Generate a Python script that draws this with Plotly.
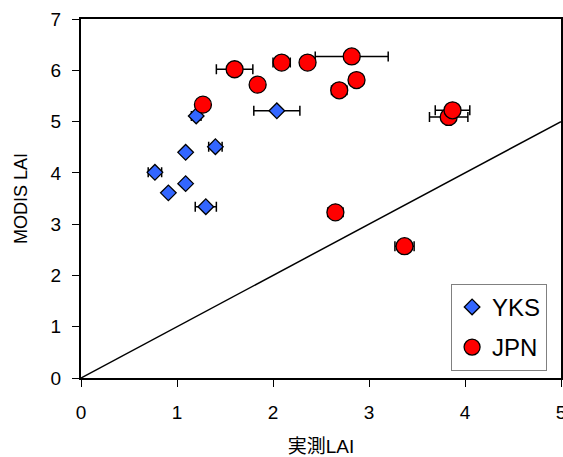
import plotly.graph_objects as go

# YKS site (diamonds)
yks_x = [0.77, 0.91, 1.09, 1.09, 1.20, 1.30, 1.40, 2.04]
yks_y = [4.01, 3.61, 4.40, 3.79, 5.11, 3.34, 4.51, 5.21]
yks_xerr = [0.07, 0.0, 0.0, 0.0, 0.05, 0.11, 0.07, 0.24]

# JPN site (circles)
jpn_x = [1.27, 1.60, 1.84, 2.09, 2.36, 2.82, 2.87, 2.69, 2.65, 3.83, 3.87, 3.37]
jpn_y = [5.33, 6.02, 5.72, 6.15, 6.15, 6.27, 5.81, 5.61, 3.23, 5.09, 5.22, 2.57]
jpn_xerr = [0.0, 0.19, 0.0, 0.09, 0.0, 0.38, 0.0, 0.08, 0.08, 0.20, 0.18, 0.10]

# 1:1 line
line_x = [0, 5]
line_y = [0, 5]

x_ticks = [0, 1, 2, 3, 4, 5]
y_ticks = [0, 1, 2, 3, 4, 5, 6, 7]

FONT = "Liberation Sans, Arial, Noto Sans CJK JP, sans-serif"

fig = go.Figure()
fig.add_trace(go.Scatter(x=line_x, y=line_y, mode="lines",
                         line=dict(color="black", width=1.5),
                         showlegend=False, hoverinfo="skip"))
fig.add_trace(go.Scatter(
    x=yks_x, y=yks_y, mode="markers", name="YKS", legendgroup="a",
    marker=dict(symbol="diamond", size=12, color="#3366FF",
                line=dict(color="black", width=1.3)),
    error_x=dict(type="data", array=yks_xerr, color="black",
                 thickness=1.5, width=5),
))
fig.add_trace(go.Scatter(
    x=jpn_x, y=jpn_y, mode="markers", name="JPN", legendgroup="b",
    marker=dict(symbol="circle", size=17, color="#FF0000",
                line=dict(color="black", width=1.3)),
    error_x=dict(type="data", array=jpn_xerr, color="black",
                 thickness=1.5, width=5),
))

fig.update_layout(
    width=563, height=457,
    margin=dict(l=81, r=2, t=19, b=79, autoexpand=False),
    paper_bgcolor="white", plot_bgcolor="white",
    font=dict(family=FONT, size=19, color="black"),
    showlegend=True,
    legend=dict(x=0.971, y=0.02, xanchor="right", yanchor="bottom",
                bgcolor="white", bordercolor="#808080", borderwidth=1,
                font=dict(size=24, family=FONT), tracegroupgap=6,
                traceorder="grouped"),
    xaxis=dict(range=[0, 5], tickvals=x_ticks, ticks="outside", ticklen=7,
               tickcolor="black", showline=True, linecolor="black",
               linewidth=2, mirror=True, showgrid=False, zeroline=False,
               automargin=False, ticklabelstandoff=9,
               ticklabeloverflow="allow",
               title=dict(text="実測LAI", font=dict(size=19), standoff=18),
               tickfont=dict(size=19)),
    yaxis=dict(range=[0, 7], tickvals=y_ticks, ticks="outside", ticklen=7,
               tickcolor="black", showline=True, linecolor="black",
               linewidth=2, mirror=True, showgrid=False, zeroline=False,
               automargin=False, ticklabelstandoff=7,
               ticklabeloverflow="allow",
               title=dict(text="MODIS LAI", font=dict(size=18), standoff=18),
               tickfont=dict(size=19)),
)

fig.write_html("out.html",
               config={"displayModeBar": False},
               post_script="document.body.style.margin='0';"
                           "document.body.style.overflow='hidden';")
